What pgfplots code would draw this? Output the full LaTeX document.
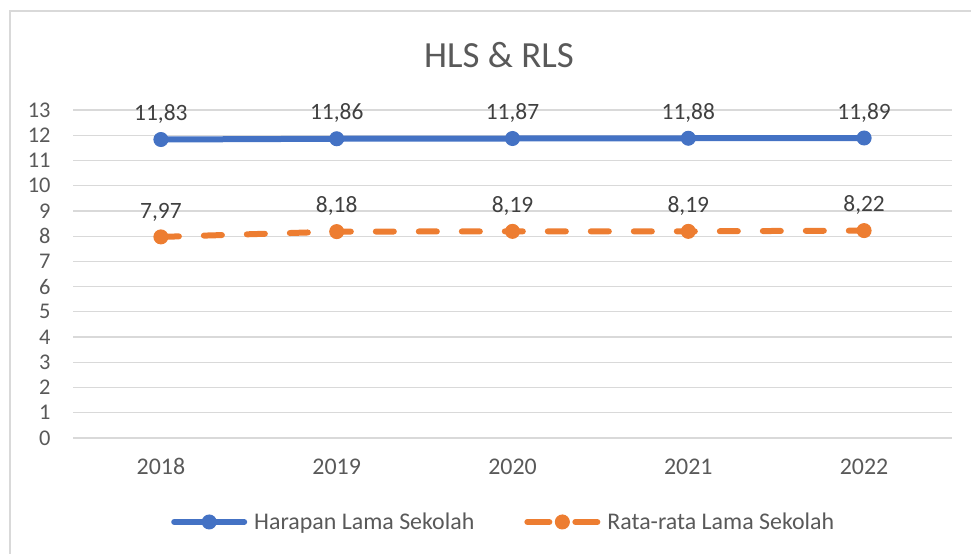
\documentclass[border=0pt]{standalone}
\usepackage{pgfplots}
\pgfplotsset{compat=1.18}
\usepackage{fontspec}
\setmainfont{Carlito}
\definecolor{hblue}{HTML}{4472C4}
\definecolor{horange}{HTML}{ED7D31}
\definecolor{tgray}{HTML}{595959}
\definecolor{dgray}{HTML}{404040}
\definecolor{ggray}{HTML}{D9D9D9}
\begin{document}
\begin{tikzpicture}
\useasboundingbox (0,0) rectangle (971bp,554bp);
\draw[ggray, line width=1.5bp] (10bp,0) -- (10bp,543bp) -- (971bp,543bp);
\node[text=tgray, font=\fontsize{37}{42}\selectfont] at (499bp,499bp) {HLS \& RLS};
\begin{axis}[
  at={(73bp,116bp)}, anchor=south west,
  scale only axis, width=879bp, height=328bp,
  xmin=-0.5, xmax=4.5, ymin=0, ymax=13,
  xtick={0,...,4}, xticklabels={2018,2019,2020,2021,2022},
  ytick={0,...,13},
  axis line style={draw=none}, major tick length=0pt,
  ymajorgrids, grid style={ggray, line width=1.3bp},
  tick label style={text=tgray},
  /pgf/number format/assume math mode=true,
  xticklabel style={yshift=-17bp, font=\fontsize{24}{28}\selectfont},
  yticklabel style={xshift=-19bp, font=\fontsize{22.5}{26}\selectfont},
  legend style={at={(0.49,-0.256)}, anchor=center, draw=none, fill=none,
    legend columns=2, font=\fontsize{24}{28}\selectfont, text=tgray,
    /tikz/every even column/.append style={column sep=48bp}},
  legend image code/.code={\draw[mark repeat=2,mark phase=2] plot coordinates {(0bp,0bp) (35bp,0bp) (70bp,0bp)};},
  nodes near coords={\pgfmathprintnumber[fixed,fixed zerofill,precision=2,use comma,assume math mode=true]{\pgfplotspointmeta}},
  every node near coord/.append style={text=dgray, font=\fontsize{23.5}{27}\selectfont, yshift=12bp},
  clip=false,
]
\addplot[hblue, line width=6bp, line cap=round, mark=*, mark size=7bp, mark options={solid, line width=1bp}]
  coordinates {(0,11.83) (1,11.86) (2,11.87) (3,11.88) (4,11.89)};
\addlegendentry{\hspace{5bp}Harapan Lama Sekolah}
\addplot[horange, line width=6bp, line cap=round, dash pattern=on 18bp off 25bp, mark=*, mark size=7bp, mark options={solid, line width=1bp},
  legend image code/.code={\draw[dash pattern=on 22bp off 26bp] (0bp,0bp) -- (70bp,0bp);
    \draw[solid, line width=1bp, fill=horange] (35bp,0bp) circle[radius=7bp];}]
  coordinates {(0,7.97) (1,8.18) (2,8.19) (3,8.19) (4,8.22)};
\addlegendentry{\hspace{5bp}Rata-rata Lama Sekolah}
\end{axis}
\end{tikzpicture}
\end{document}
